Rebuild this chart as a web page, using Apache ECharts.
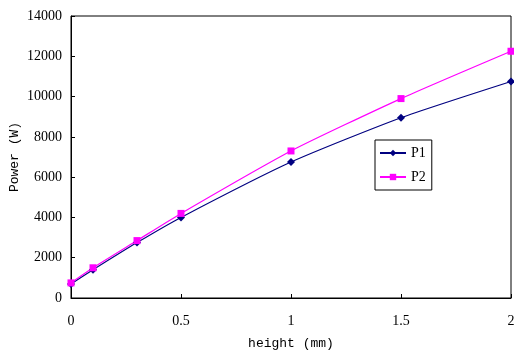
<!DOCTYPE html>
<html>
<head>
<meta charset="utf-8">
<script src="https://cdn.jsdelivr.net/npm/echarts@6/dist/echarts.min.js"></script>
<style>
  html, body { margin: 0; padding: 0; background: #fff; }
  #main { width: 514px; height: 351px; }
</style>
</head>
<body>
<div id="main"></div>
<script>
// heights (mm) and measured power (W)
var heights = [0, 0.1, 0.3, 0.5, 1, 1.5, 2];
var p1 = [700, 1400, 2750, 4000, 6750, 8950, 10750];
var p2 = [750, 1500, 2850, 4200, 7300, 9900, 12250];

function pairs(xs, ys) {
    return xs.map(function (x, i) { return [x, ys[i]]; });
}

var myChart = echarts.init(document.getElementById('main'));

var serifFont = '"Liberation Serif", "DejaVu Serif", serif';
var monoFont = '"Liberation Mono", "DejaVu Sans Mono", monospace';

var option = {
    animation: false,
    backgroundColor: '#fff',
    grid: {
        left: 71, right: 3, top: 16, bottom: 53,
        outerBoundsMode: 'none',
        containLabel: false,
        show: true,
        borderColor: '#000',
        borderWidth: 1
    },
    legend: {
        orient: 'vertical',
        left: 375,
        top: 140,
        itemWidth: 26,
        itemHeight: 8,
        itemGap: 10,
        padding: [6, 6, 6, 4],
        borderColor: '#000',
        borderWidth: 1,
        textStyle: { fontFamily: serifFont, fontSize: 14, color: '#000' },
        data: ['P1', 'P2']
    },
    xAxis: {
        type: 'value',
        min: 0, max: 2, interval: 0.5,
        name: 'height (mm)',
        nameLocation: 'middle',
        nameGap: 39,
        nameMoveOverlap: false,
        nameTextStyle: { fontFamily: monoFont, fontSize: 13, color: '#000' },
        axisLine: { lineStyle: { color: '#000' } },
        axisTick: { inside: true, length: 4, lineStyle: { color: '#000' } },
        splitLine: { show: false },
        axisLabel: { fontFamily: serifFont, fontSize: 14, color: '#000', margin: 16 }
    },
    yAxis: {
        type: 'value',
        min: 0, max: 14000, interval: 2000,
        name: 'Power (W)',
        nameLocation: 'middle',
        nameGap: 50,
        nameMoveOverlap: false,
        nameTextStyle: { fontFamily: monoFont, fontSize: 13, color: '#000' },
        axisLine: { show: true, lineStyle: { color: '#000' } },
        axisTick: { show: true, inside: true, length: 4, lineStyle: { color: '#000' } },
        splitLine: { show: false },
        axisLabel: {
            fontFamily: serifFont, fontSize: 14, color: '#000', margin: 9,
            formatter: function (v) { return String(v); }
        }
    },
    series: [
        {
            name: 'P1',
            type: 'line',
            data: pairs(heights, p1),
            smooth: 0.2,
            symbol: 'diamond',
            symbolSize: 8,
            color: '#000080',
            lineStyle: { width: 1.2, color: '#000080' },
            itemStyle: { color: '#000080' }
        },
        {
            name: 'P2',
            type: 'line',
            data: pairs(heights, p2),
            smooth: 0.2,
            symbol: 'rect',
            symbolSize: 7,
            color: '#ff00ff',
            lineStyle: { width: 1.2, color: '#ff00ff' },
            itemStyle: { color: '#ff00ff' }
        }
    ]
};

myChart.setOption(option);
</script>
</body>
</html>
